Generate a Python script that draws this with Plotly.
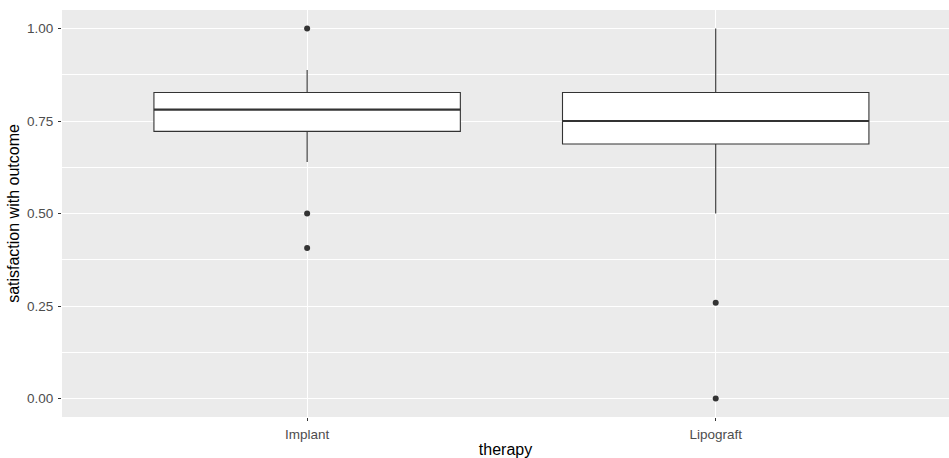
import plotly.graph_objects as go

categories = ["Implant", "Lipograft"]
q1 = [0.722, 0.688]
median = [0.781, 0.750]
q3 = [0.827, 0.827]
lower_whisker = [0.639, 0.500]
upper_whisker = [0.888, 1.000]
outlier_cat = ["Implant", "Implant", "Implant", "Lipograft", "Lipograft"]
outlier_val = [1.000, 0.500, 0.407, 0.259, 0.000]
y_ticks = [0.00, 0.25, 0.50, 0.75, 1.00]
y_tick_labels = ["0.00", "0.25", "0.50", "0.75", "1.00"]

BOX_W = 0.75
FONT = "Liberation Sans, Arial, sans-serif"

fig = go.Figure()
fig.add_trace(go.Box(
    x=categories, q1=q1, median=median, q3=q3,
    lowerfence=lower_whisker, upperfence=upper_whisker,
    width=BOX_W, whiskerwidth=0, fillcolor="white",
    line=dict(color="#333333", width=1.1),
    boxpoints=False, hoverinfo="skip", showlegend=False,
))
# thicker median lines like ggplot
for i, m in enumerate(median):
    fig.add_trace(go.Scatter(
        x=[i - BOX_W / 2, i + BOX_W / 2], y=[m, m], mode="lines",
        line=dict(color="#333333", width=2.2), xaxis="x2",
        showlegend=False, hoverinfo="skip",
    ))
fig.add_trace(go.Scatter(
    x=outlier_cat, y=outlier_val, mode="markers",
    marker=dict(color="#333333", size=6),
    showlegend=False, hoverinfo="skip",
))

XR = [-0.6, 1.571]
fig.update_layout(
    width=949, height=458,
    margin=dict(l=62, r=0, t=10, b=41),
    paper_bgcolor="white", plot_bgcolor="#EBEBEB",
    font=dict(family=FONT, color="#4D4D4D", size=13.5),
    xaxis=dict(
        type="category", categoryorder="array", categoryarray=categories,
        range=XR, showgrid=True, gridcolor="white", gridwidth=1.1,
        zeroline=False, showline=False,
        ticks="outside", ticklen=3, tickcolor="#333333", tickwidth=1,
        ticklabelstandoff=2,
        tickfont=dict(size=13.5, color="#4D4D4D"),
        title=dict(text="therapy", font=dict(size=16, color="black"), standoff=3),
    ),
    xaxis2=dict(overlaying="x", range=XR, visible=False, matches=None),
    yaxis=dict(
        range=[-0.05, 1.05], tickvals=y_ticks, ticktext=y_tick_labels,
        showgrid=True, gridcolor="white", gridwidth=1.1,
        zeroline=False, showline=False,
        ticks="outside", ticklen=3, tickcolor="#333333", tickwidth=1,
        ticklabelstandoff=2,
        tickfont=dict(size=13.5, color="#4D4D4D"),
        minor=dict(tickvals=[0.125, 0.375, 0.625, 0.875], showgrid=True,
                   gridcolor="white", gridwidth=0.55, ticks=""),
        title=dict(text="satisfaction with outcome", font=dict(size=16, color="black"), standoff=3),
    ),
)
fig.write_html("out.html")
